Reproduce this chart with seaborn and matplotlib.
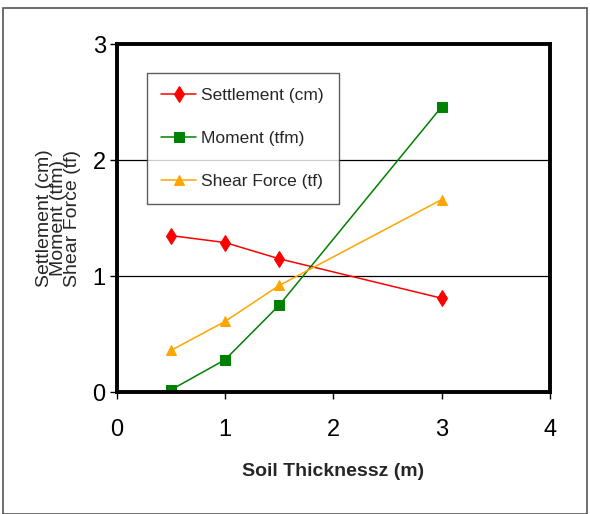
import matplotlib
matplotlib.use("Agg")
import matplotlib.pyplot as plt
import seaborn as sns
import pandas as pd
from matplotlib.patches import Rectangle

sns.set_theme(style="white")
plt.rcParams['font.family'] = ['Liberation Sans', 'DejaVu Sans']

thickness = [0.5, 1.0, 1.5, 3.0]
settlement = [1.35, 1.29, 1.15, 0.81]
moment = [0.02, 0.28, 0.75, 2.46]
shear = [0.36, 0.61, 0.92, 1.66]
series_names = ["Settlement (cm)", "Moment (tfm)", "Shear Force (tf)"]
colors = ["#ff0000", "#008000", "#ffa500"]
markers = ["d", "s", "^"]

rows = []
for name, vals in zip(series_names, [settlement, moment, shear]):
    for x, v in zip(thickness, vals):
        rows.append({"x": x, "y": v, "series": name})
df = pd.DataFrame(rows)

fig = plt.figure(figsize=(5.9, 5.14), dpi=100)
fig.patches.append(Rectangle((0.005, 0.0), 0.99, 0.985, transform=fig.transFigure,
                             fill=False, edgecolor="#555555", linewidth=1.2))
ax = fig.add_axes([0.198, 0.237, 0.734, 0.677])

for name, c, m in zip(series_names, colors, markers):
    sub = df[df["series"] == name]
    sns.lineplot(data=sub, x="x", y="y", ax=ax, color=c, marker=m,
                 markersize=8 if m == "d" else 6.5, markeredgecolor=c,
                 linewidth=1.1, label=name, estimator=None)

ax.set_xlim(0, 4)
ax.set_ylim(0, 3)
ax.set_xticks([0, 1, 2, 3, 4])
ax.set_yticks([0, 1, 2, 3])
for y in [1, 2]:
    ax.axhline(y, color="black", linewidth=0.9, zorder=0)
for s in ax.spines.values():
    s.set_linewidth(2.8)
    s.set_color("black")
ax.tick_params(axis="both", direction="out", length=5, width=1, colors="black",
               labelsize=17, bottom=True, left=True, pad=3)
ax.tick_params(axis="x", pad=14)
ax.set_xlabel("Soil Thicknessz (m)", fontsize=14, fontweight="bold", labelpad=16)
ax.set_ylabel("Settlement (cm)\nMoment (tfm)\nShear Force (tf)", fontsize=14,
              linespacing=0.8, labelpad=8)

leg = ax.legend(loc="upper left", bbox_to_anchor=(0.069, 0.917), frameon=True,
                fancybox=False, edgecolor="#333333",
                prop={'size': 12.5},
                handlelength=2.0, handletextpad=0.3, labelspacing=1.6,
                borderpad=0.85, borderaxespad=0)
leg.get_frame().set_linewidth(1.0)

fig.savefig("out.png", dpi=100)
